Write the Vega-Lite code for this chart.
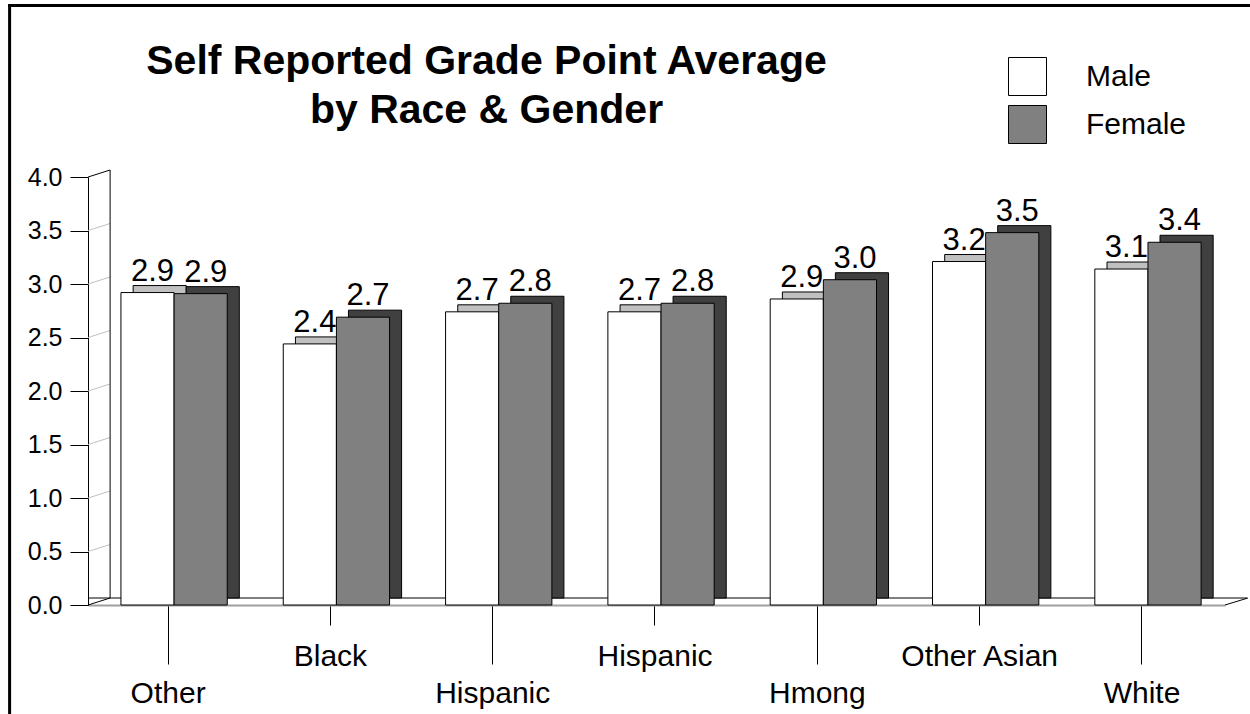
{
  "$schema": "https://vega.github.io/schema/vega-lite/v6.json",
  "width": 1137,
  "height": 428,
  "autosize": {"type": "none"},
  "padding": {"left": 88, "top": 177, "right": 25, "bottom": 109},
  "background": "white",
  "config": {"view": {"stroke": null}, "font": "Liberation Sans"},
  "title": {
    "text": ["Self Reported Grade Point Average", "by Race & Gender"],
    "font": "Liberation Sans",
    "fontSize": 41,
    "fontWeight": "bold",
    "color": "black",
    "anchor": "middle",
    "frame": "group",
    "dx": -170,
    "lineHeight": 49,
    "offset": -161,
    "baseline": "alphabetic"
  },
  "data": {
    "values": [
      {"race": "Other", "gender": "Male", "gpa": 2.92},
      {"race": "Other", "gender": "Female", "gpa": 2.91},
      {"race": "Black", "gender": "Male", "gpa": 2.44},
      {"race": "Black", "gender": "Female", "gpa": 2.69},
      {"race": "Hispanic", "gender": "Male", "gpa": 2.74},
      {"race": "Hispanic", "gender": "Female", "gpa": 2.82},
      {"race": "Hispanic ", "gender": "Male", "gpa": 2.74},
      {"race": "Hispanic ", "gender": "Female", "gpa": 2.82},
      {"race": "Hmong", "gender": "Male", "gpa": 2.86},
      {"race": "Hmong", "gender": "Female", "gpa": 3.04},
      {"race": "Other Asian", "gender": "Male", "gpa": 3.21},
      {"race": "Other Asian", "gender": "Female", "gpa": 3.48},
      {"race": "White", "gender": "Male", "gpa": 3.14},
      {"race": "White", "gender": "Female", "gpa": 3.39}
    ]
  },
  "layer": [
    {
      "data": {"values": [{}]},
      "mark": {"type": "rule", "color": "black", "strokeWidth": 3, "xOffset": -166, "x2Offset": 102, "yOffset": -171.5, "y2Offset": -171.5},
      "encoding": {"x": {"datum": "Other"}, "x2": {"datum": "White"}, "y": {"datum": 4, "type": "quantitative"}, "y2": {"datum": 4}}
    },
    {
      "data": {"values": [{}]},
      "mark": {"type": "rule", "color": "black", "strokeWidth": 3, "xOffset": -164.5, "yOffset": 109, "y2Offset": -173},
      "encoding": {"x": {"datum": "Other"}, "y": {"datum": 0, "type": "quantitative"}, "y2": {"datum": 4}}
    },
    {
      "data": {"values": [{"level": 0}, {"level": 0.5}, {"level": 1}, {"level": 1.5}, {"level": 2}, {"level": 2.5}, {"level": 3}, {"level": 3.5}, {"level": 4}]},
      "mark": {"type": "rule", "strokeWidth": 1, "xOffset": -86, "x2Offset": -64, "y2Offset": -7},
      "encoding": {
        "x": {"datum": "Other"},
        "x2": {"datum": "Other"},
        "y": {"field": "level", "type": "quantitative"},
        "y2": {"field": "level"},
        "color": {"condition": {"test": "datum.level === 0 || datum.level === 4", "value": "black"}, "value": "#c0c0c0"}
      }
    },
    {
      "data": {"values": [{}]},
      "mark": {"type": "rule", "color": "black", "strokeWidth": 1, "xOffset": 22, "x2Offset": 22, "yOffset": -7},
      "encoding": {"y": {"datum": 0, "type": "quantitative"}}
    },
    {
      "data": {"values": [{}]},
      "mark": {"type": "rule", "color": "black", "strokeWidth": 1, "xOffset": -64, "yOffset": -7, "y2Offset": -7},
      "encoding": {"x": {"datum": "Other"}, "y": {"datum": 0, "type": "quantitative"}, "y2": {"datum": 4}}
    },
    {
      "data": {"values": [{}]},
      "mark": {"type": "rule", "color": "black", "strokeWidth": 1, "xOffset": 77, "x2Offset": 100, "y2Offset": -7},
      "encoding": {"x": {"datum": "White"}, "x2": {"datum": "White"}, "y": {"datum": 0, "type": "quantitative"}, "y2": {"datum": 0}}
    },
    {
      "transform": [{"filter": "datum.gender === 'Male'"}],
      "mark": {"type": "bar", "stroke": "black", "strokeWidth": 1, "fill": "#c0c0c0", "width": {"band": 0.5}, "xOffset": -14.4, "x2Offset": -14.4, "yOffset": -7, "y2Offset": -7},
      "encoding": {
        "x": {"field": "race", "type": "nominal"},
        "y": {"field": "gpa", "type": "quantitative"}
      }
    },
    {
      "transform": [{"filter": "datum.gender === 'Female'"}],
      "mark": {"type": "bar", "stroke": "black", "strokeWidth": 1, "fill": "#404040", "width": {"band": 0.5}, "xOffset": 38.6, "x2Offset": 38.6, "yOffset": -7, "y2Offset": -7},
      "encoding": {
        "x": {"field": "race", "type": "nominal"},
        "y": {"field": "gpa", "type": "quantitative"}
      }
    },
    {
      "mark": {"type": "bar", "stroke": "black", "strokeWidth": 1},
      "encoding": {
        "x": {
          "field": "race",
          "type": "nominal",
          "scale": {"domain": ["Other", "Black", "Hispanic", "Hispanic ", "Hmong", "Other Asian", "White"], "paddingInner": 0.345, "paddingOuter": 0.175, "align": 0.58},
          "axis": {
            "title": null,
            "labelAngle": 0,
            "labelAlign": "center",
            "labelFont": "Liberation Sans",
            "labelFontSize": 30,
            "labelColor": "black",
            "labelBaseline": "top",
            "labelOffset": -6,
            "tickColor": "black",
            "tickWidth": 1,
            "domainColor": "#a0a0a0",
            "domainWidth": 2,
            "bandPosition": 0.443,
            "tickSize": {"condition": {"test": "indexof(['Black', 'Hispanic ', 'Other Asian'], datum.value) >= 0", "value": 20}, "value": 59},
            "labelPadding": {"condition": {"test": "indexof(['Black', 'Hispanic ', 'Other Asian'], datum.value) >= 0", "value": 16}, "value": 14}
          }
        },
        "xOffset": {"field": "gender", "type": "nominal", "sort": ["Male", "Female"], "scale": {"paddingInner": 0, "paddingOuter": 0}},
        "y": {
          "field": "gpa",
          "type": "quantitative",
          "scale": {"domain": [0, 4], "nice": false},
          "axis": {
            "title": null,
            "values": [0, 0.5, 1, 1.5, 2, 2.5, 3, 3.5, 4],
            "format": ".1f",
            "grid": false,
            "tickSize": 18,
            "labelPadding": 8,
            "labelFont": "Liberation Sans",
            "labelFontSize": 25,
            "labelColor": "black",
            "tickColor": "black",
            "domainColor": "black"
          }
        },
        "color": {
          "field": "gender",
          "type": "nominal",
          "sort": ["Male", "Female"],
          "scale": {"domain": ["Male", "Female"], "range": ["#ffffff", "#808080"]},
          "legend": {
            "title": null,
            "orient": "none",
            "legendX": 920,
            "legendY": -120,
            "symbolType": "square",
            "symbolSize": 1444,
            "symbolStrokeColor": "black",
            "symbolStrokeWidth": 1,
            "symbolOpacity": 1,
            "labelFont": "Liberation Sans",
            "labelFontSize": 30,
            "labelColor": "black",
            "labelOffset": 39,
            "rowPadding": 5,
            "padding": 0
          }
        }
      }
    },
    {
      "mark": {"type": "text", "baseline": "alphabetic", "dy": -12, "dx": 5, "fontSize": 31, "font": "Liberation Sans", "color": "black"},
      "encoding": {
        "x": {"field": "race", "type": "nominal"},
        "xOffset": {"field": "gender", "type": "nominal", "sort": ["Male", "Female"]},
        "y": {"field": "gpa", "type": "quantitative"},
        "text": {"field": "gpa", "type": "quantitative", "format": ".1f"}
      }
    }
  ]
}
